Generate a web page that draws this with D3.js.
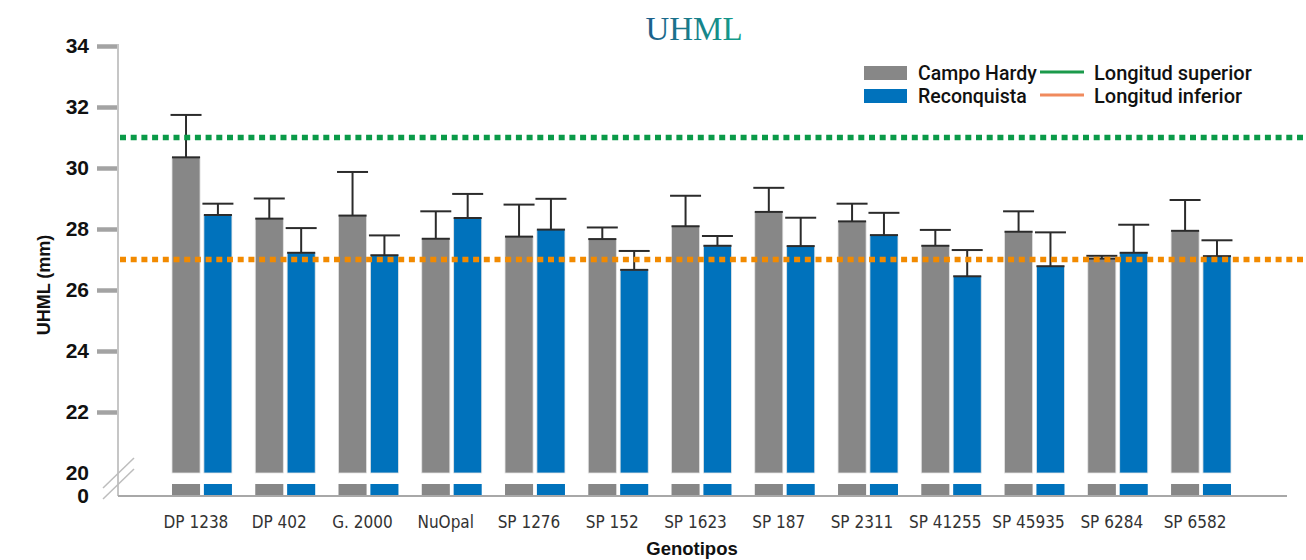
<!DOCTYPE html>
<html>
<head>
  <meta charset="utf-8">
  <title>UHML</title>
  <script src="https://d3js.org/d3.v7.min.js"></script>
  <style>
    body { margin: 0; background: #fff; }
    text { font-family: "Liberation Sans", Arial, sans-serif; }
  </style>
</head>
<body>
<div id="chart"></div>
<script>
  var genotipos = ["DP 1238", "DP 402", "G. 2000", "NuOpal", "SP 1276", "SP 152", "SP 1623",
                   "SP 187", "SP 2311", "SP 41255", "SP 45935", "SP 6284", "SP 6582"];
  var series = ["Campo Hardy", "Reconquista"];
  var campoHardy    = [30.35, 28.34, 28.44, 27.68, 27.75, 27.67, 28.09, 28.56, 28.25, 27.45, 27.91, 27.03, 27.94];
  var campoHardyErr = [1.39, 0.66, 1.43, 0.90, 1.05, 0.38, 1.00, 0.79, 0.58, 0.52, 0.67, 0.09, 1.01];
  var reconquista    = [28.46, 27.22, 27.14, 28.36, 27.98, 26.66, 27.45, 27.44, 27.80, 26.45, 26.78, 27.22, 27.11];
  var reconquistaErr = [0.37, 0.81, 0.65, 0.79, 1.01, 0.62, 0.32, 0.93, 0.73, 0.86, 1.11, 0.92, 0.52];
  var yTicks = [22, 24, 26, 28, 30, 32, 34];
  var limites = [
    {name: "Longitud superior", value: 31, color: "#0a9a48", legend: "#1b9a4b"},
    {name: "Longitud inferior", value: 27, color: "#f28a00", legend: "#f08a5d"}
  ];

  var colors = {"Campo Hardy": "#878787", "Reconquista": "#0072bc"};

  var w = 1306, h = 560;

  var svg = d3.select("#chart").append("svg")
      .attr("width", w)
      .attr("height", h);

  // scales: upper part 20-34, small stub below the break for 0-20
  var y = d3.scaleLinear().domain([20, 34]).range([473, 46]);
  var yLow = d3.scaleLinear().domain([0, 20]).range([496, 484]);

  var x0 = d3.scaleBand().domain(genotipos).range([172, 1231]).paddingInner(0.28).paddingOuter(0);
  var x1 = d3.scaleBand().domain(series).range([0, x0.bandwidth()]).paddingInner(0.12);

  var data = genotipos.map(function(g, i) {
    return {
      name: g,
      values: [
        {serie: "Campo Hardy", v: campoHardy[i], e: campoHardyErr[i]},
        {serie: "Reconquista", v: reconquista[i], e: reconquistaErr[i]}
      ]
    };
  });

  // title with gradient
  var defs = svg.append("defs");
  var grad = defs.append("linearGradient").attr("id", "tgrad")
      .attr("x1", "0%").attr("x2", "100%").attr("y1", "0%").attr("y2", "0%");
  grad.append("stop").attr("offset", "0%").attr("stop-color", "#1c5d8c");
  grad.append("stop").attr("offset", "100%").attr("stop-color", "#12a08a");

  svg.append("text")
      .attr("x", 694).attr("y", 40)
      .attr("text-anchor", "middle")
      .style("font-family", "'Liberation Serif', 'DejaVu Serif', serif")
      .style("font-size", "33px")
      .attr("fill", "url(#tgrad)")
      .text("UHML");

  // y axis
  var yAxis = d3.axisLeft(y).tickValues(yTicks).tickSize(21).tickPadding(8);
  var gy = svg.append("g")
      .attr("transform", "translate(118,0)")
      .call(yAxis);
  gy.select(".domain").remove();
  gy.selectAll(".tick line").attr("stroke", "#a3a3a3").attr("stroke-width", 4.5);
  gy.selectAll(".tick text")
      .style("font-size", "21px").style("font-weight", "bold").attr("fill", "#111");

  svg.append("line")
      .attr("x1", 118).attr("x2", 118)
      .attr("y1", y(34) - 2).attr("y2", yLow(0))
      .attr("stroke", "#c6c6c6").attr("stroke-width", 2);

  // labels 20 and 0 around the break
  svg.append("text").attr("x", 89).attr("y", y(20)).attr("dy", "0.35em")
      .attr("text-anchor", "end").style("font-size", "21px").style("font-weight", "bold")
      .attr("fill", "#111").text("20");
  svg.append("text").attr("x", 89).attr("y", yLow(0)).attr("dy", "0.35em")
      .attr("text-anchor", "end").style("font-size", "21px").style("font-weight", "bold")
      .attr("fill", "#111").text("0");

  // break marks
  [0, 11].forEach(function(off) {
    svg.append("line")
        .attr("x1", 103).attr("y1", 488 + off)
        .attr("x2", 134).attr("y2", 458 + off)
        .attr("stroke", "#bdbdbd").attr("stroke-width", 1.5);
  });

  // bars
  var groups = svg.selectAll(".grupo")
      .data(data)
      .enter()
      .append("g")
      .attr("class", "grupo")
      .attr("transform", function(d) { return "translate(" + x0(d.name) + ",0)"; });

  groups.selectAll(".bar")
      .data(function(d) { return d.values; })
      .enter()
      .append("rect")
      .attr("class", "bar")
      .attr("x", function(d) { return x1(d.serie); })
      .attr("y", function(d) { return y(d.v); })
      .attr("width", x1.bandwidth())
      .attr("height", function(d) { return y(20) - y(d.v); })
      .attr("fill", function(d) { return colors[d.serie]; })
      .attr("stroke", "#e4e4e4").attr("stroke-width", 0.8);

  groups.selectAll(".stub")
      .data(function(d) { return d.values; })
      .enter()
      .append("rect")
      .attr("class", "stub")
      .attr("x", function(d) { return x1(d.serie); })
      .attr("y", yLow(20))
      .attr("width", x1.bandwidth())
      .attr("height", yLow(0) - yLow(20))
      .attr("fill", function(d) { return colors[d.serie]; });

  // top edge of each bar
  groups.selectAll(".top")
      .data(function(d) { return d.values; })
      .enter()
      .append("line")
      .attr("x1", function(d) { return x1(d.serie); })
      .attr("x2", function(d) { return x1(d.serie) + x1.bandwidth(); })
      .attr("y1", function(d) { return y(d.v); })
      .attr("y2", function(d) { return y(d.v); })
      .attr("stroke", "#2b2b2b").attr("stroke-width", 2);

  // error bars
  var cap = 15.5;
  groups.selectAll(".err")
      .data(function(d) { return d.values; })
      .enter()
      .append("line")
      .attr("x1", function(d) { return x1(d.serie) + x1.bandwidth() / 2; })
      .attr("x2", function(d) { return x1(d.serie) + x1.bandwidth() / 2; })
      .attr("y1", function(d) { return y(d.v); })
      .attr("y2", function(d) { return y(d.v + d.e); })
      .attr("stroke", "#2b2b2b").attr("stroke-width", 2);

  groups.selectAll(".cap")
      .data(function(d) { return d.values; })
      .enter()
      .append("line")
      .attr("x1", function(d) { return x1(d.serie) + x1.bandwidth() / 2 - cap; })
      .attr("x2", function(d) { return x1(d.serie) + x1.bandwidth() / 2 + cap; })
      .attr("y1", function(d) { return y(d.v + d.e); })
      .attr("y2", function(d) { return y(d.v + d.e); })
      .attr("stroke", "#2b2b2b").attr("stroke-width", 2);

  // limit lines
  svg.selectAll(".limite")
      .data(limites)
      .enter()
      .append("line")
      .attr("x1", 120).attr("x2", w)
      .attr("y1", function(d) { return y(d.value); })
      .attr("y2", function(d) { return y(d.value); })
      .attr("stroke", function(d) { return d.color; })
      .attr("stroke-width", 5.5)
      .attr("stroke-dasharray", "6 4.7");

  // x axis
  svg.append("line")
      .attr("x1", 118).attr("x2", 1287)
      .attr("y1", yLow(0)).attr("y2", yLow(0))
      .attr("stroke", "#a8a8a8").attr("stroke-width", 2);

  svg.selectAll(".xlab")
      .data(genotipos)
      .enter()
      .append("text")
      .attr("class", "xlab")
      .attr("x", function(d) { return x0(d) + x0.bandwidth() / 2 - 6; })
      .attr("y", 528)
      .attr("text-anchor", "middle")
      .style("font-family", "'Liberation Sans Narrow', 'DejaVu Sans Condensed', sans-serif")
      .style("font-size", "17px")
      .attr("fill", "#333")
      .text(function(d) { return d; });

  svg.append("text")
      .attr("x", 692).attr("y", 555)
      .attr("text-anchor", "middle")
      .style("font-size", "18.5px").style("font-weight", "bold")
      .attr("fill", "#111")
      .text("Genotipos");

  svg.append("text")
      .attr("transform", "translate(50,285) rotate(-90)")
      .attr("text-anchor", "middle")
      .style("font-size", "18px").style("font-weight", "bold")
      .attr("fill", "#111")
      .text("UHML (mm)");

  // legend
  var leg = svg.append("g")
      .style("font-family", "Roboto, 'Liberation Sans', sans-serif")
      .style("font-weight", 500);
  series.forEach(function(s, i) {
    leg.append("rect")
        .attr("x", 864).attr("y", 66 + i * 23)
        .attr("width", 43).attr("height", 14)
        .attr("fill", colors[s]);
    leg.append("text")
        .attr("x", 918).attr("y", 80 + i * 23)
        .style("font-family", "inherit")
        .style("font-size", "19.5px")
        .attr("fill", "#111")
        .text(s);
  });
  limites.forEach(function(l, i) {
    leg.append("line")
        .attr("x1", 1040).attr("x2", 1084)
        .attr("y1", 72 + i * 23).attr("y2", 72 + i * 23)
        .attr("stroke", l.legend).attr("stroke-width", 3);
    leg.append("text")
        .attr("x", 1094).attr("y", 80 + i * 23)
        .style("font-family", "inherit")
        .style("font-size", "20px")
        .attr("fill", "#111")
        .text(l.name);
  });
</script>
</body>
</html>
